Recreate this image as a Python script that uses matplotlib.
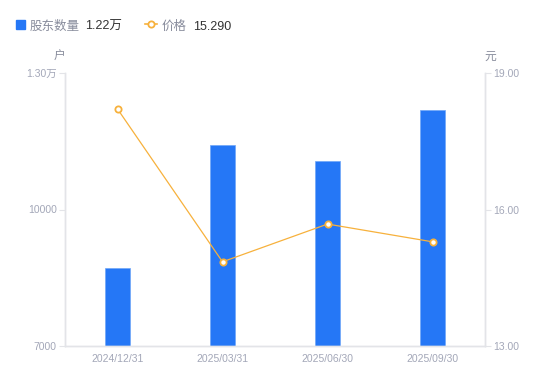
import matplotlib.pyplot as plt
from matplotlib.lines import Line2D

plt.rcParams['font.family'] = ['Liberation Sans', 'Noto Sans CJK SC', 'DejaVu Sans']

dates = ['2024/12/31', '2025/03/31', '2025/06/30', '2025/09/30']
holders = [8710, 11420, 11070, 12190]
prices = [18.21, 14.85, 15.68, 15.29]

bar_color = '#2577F6'
line_color = '#F7B13C'
tick_color = '#A3A7B8'
axis_color = '#E3E4E8'

fig = plt.figure(figsize=(5.5, 3.81), dpi=100)
ax = fig.add_axes([65 / 550, 35 / 381, 420 / 550, 273 / 381])
ax2 = ax.twinx()

x = range(len(dates))
ax.bar(x, holders, width=0.24, color=bar_color, edgecolor='#6FA6F8', linewidth=0.5, zorder=2)
ax2.plot(x, prices, color=line_color, linewidth=0.9, marker='o', markersize=4.5,
         markerfacecolor='white', markeredgecolor=line_color, markeredgewidth=1.3, zorder=3)

ax.set_xlim(-0.5, 3.5)
ax.set_ylim(7000, 13000)
ax.set_yticks([7000, 10000, 13000])
ax.set_yticklabels(['7000', '10000', '1.30万'])
ax2.set_ylim(13, 19)
ax2.set_yticks([13, 16, 19])
ax2.set_yticklabels(['13.00', '16.00', '19.00'])
ax.set_xticks(list(x))
ax.set_xticklabels(dates)

for a in (ax, ax2):
    a.spines['top'].set_visible(False)
    for side in ('left', 'right', 'bottom'):
        a.spines[side].set_color(axis_color)
        a.spines[side].set_linewidth(1)
    a.tick_params(axis='y', colors=axis_color, labelcolor=tick_color, labelsize=7.5, length=4, width=0.8, pad=2)
ax.tick_params(axis='x', length=0, labelcolor=tick_color, labelsize=7.5, pad=6)

ax.text(-0.014, 1.059, '户', transform=ax.transAxes, ha='center', va='center', color='#888C9C', fontsize=8.5)
ax.text(1.012, 1.059, '元', transform=ax.transAxes, ha='center', va='center', color='#888C9C', fontsize=8.5)

# legend
ly = 1 - 24 / 381
ty = 1 - 26.5 / 381
fig.patches.append(plt.Rectangle((16 / 550, ly - 4.5 / 381), 9 / 550, 9 / 381, transform=fig.transFigure,
                                 color=bar_color, figure=fig))
fig.text(30 / 550, ty, '股东数量', color='#888C9C', fontsize=9, va='center')
fig.text(85 / 550, ty, '1.22万', color='#333333', fontsize=9, va='center')
fig.lines.append(Line2D([145 / 550, 157 / 550], [ly, ly], transform=fig.transFigure,
                        color=line_color, linewidth=1.2))
fig.lines.append(Line2D([151 / 550], [ly], transform=fig.transFigure, marker='o', markersize=4.5,
                        markerfacecolor='white', markeredgecolor=line_color, markeredgewidth=1.3,
                        linestyle='none'))
fig.text(162 / 550, ty, '价格', color='#888C9C', fontsize=9, va='center')
fig.text(193 / 550, ty, '15.290', color='#333333', fontsize=9, va='center')

fig.savefig('out.png', dpi=100)
